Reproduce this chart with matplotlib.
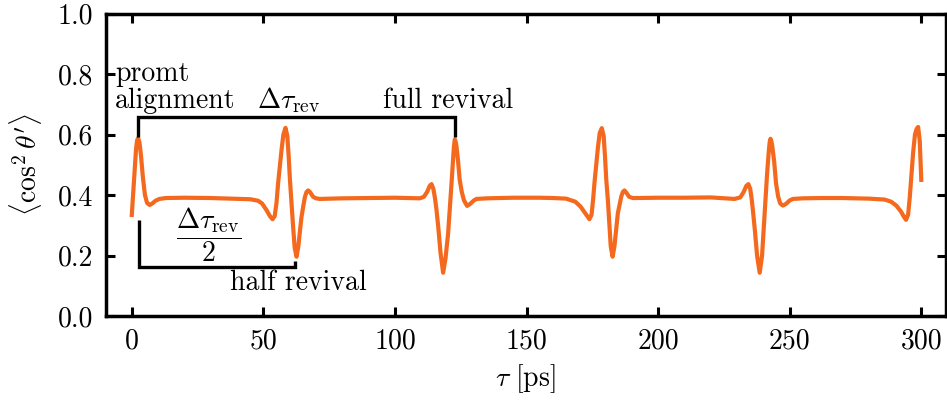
import matplotlib
matplotlib.use("Agg")
import matplotlib.pyplot as plt

plt.rcParams['font.family'] = 'serif'
plt.rcParams['font.serif'] = ['cmr10', 'DejaVu Serif']
plt.rcParams['mathtext.fontset'] = 'cm'
plt.rcParams['axes.formatter.use_mathtext'] = True
plt.rcParams['font.size'] = 20

# ---- data: delay tau [ps] and <cos^2 theta'> ----
tau = [
    0, 0.8, 1.6, 2.0, 2.4, 2.9, 3.5, 4.2, 5.0, 5.8, 6.8, 7.8, 9.0, 10.5, 13,
    20, 30, 38, 45,
    48, 49.5, 51.2, 52.5, 53.5, 54.3, 55.0, 55.6, 56.3, 56.9, 57.6, 58.4, 59.1, 59.6,
    60.1, 60.7, 61.3, 61.9, 62.6, 63.3, 64.0, 64.5, 65.2, 65.8, 66.4, 67.0, 67.7,
    68.9, 70.0, 71.5,
    80, 90, 100, 105,
    109.4, 111.0, 112.2, 113.2, 113.9, 114.6, 115.2, 115.8, 116.5, 117.3, 118.3,
    119.2, 120.2, 120.9, 121.5, 122.1, 122.4, 122.75, 123.1, 123.4, 124.0, 124.6,
    125.4, 126.2, 127.4, 128.5, 130, 131, 135,
    145, 155, 160, 165,
    168.5, 170.5, 172.3, 173.9, 174.7, 175.3, 175.8, 176.5, 177.1, 177.8, 178.6,
    179.3, 179.8, 180.3, 180.9, 181.5, 182.0, 182.7, 183.4, 184.1, 184.7, 185.4,
    186.0, 186.6, 187.2, 187.9, 189.0, 190.4, 192,
    200, 210, 220,
    229.0, 231.2, 232.5, 233.5, 234.3, 235.0, 235.5, 236.0, 236.8, 237.6, 238.6,
    239.5, 240.2, 240.8, 241.4, 242.1, 242.4, 242.7, 243.1, 243.4, 244.1, 244.8,
    245.6, 246.4, 247.4, 248.5, 250, 251.2, 255,
    262, 270, 280, 286,
    288.5, 290.5, 292.3, 293.4, 294.2, 295.0, 295.6, 296.2, 296.9, 297.6, 298.2,
    298.8, 299.4, 300.0,
]
cos2 = [
    0.334, 0.44, 0.55, 0.58, 0.588, 0.575, 0.53, 0.46, 0.40, 0.374, 0.367, 0.372, 0.381, 0.387, 0.390,
    0.391, 0.390, 0.388, 0.386,
    0.381, 0.372, 0.350, 0.330, 0.320, 0.330, 0.375, 0.439, 0.50, 0.549, 0.60, 0.622, 0.595, 0.53,
    0.45, 0.37, 0.295, 0.225, 0.196, 0.23, 0.29, 0.328, 0.365, 0.394, 0.410, 0.415, 0.410,
    0.394, 0.389, 0.387,
    0.389, 0.390, 0.391, 0.390,
    0.389, 0.394, 0.41, 0.43, 0.436, 0.42, 0.39, 0.350, 0.29, 0.21, 0.143,
    0.19, 0.273, 0.36, 0.439, 0.52, 0.56, 0.584, 0.575, 0.56, 0.51, 0.450,
    0.41, 0.383, 0.364, 0.370, 0.382, 0.387, 0.389,
    0.391, 0.391, 0.390, 0.388,
    0.378, 0.362, 0.340, 0.320, 0.335, 0.385, 0.439, 0.50, 0.555, 0.605, 0.621,
    0.595, 0.53, 0.45, 0.384, 0.30, 0.23, 0.196, 0.23, 0.29, 0.340, 0.37,
    0.395, 0.41, 0.415, 0.408, 0.394, 0.390, 0.390,
    0.391, 0.391, 0.392,
    0.387, 0.392, 0.41, 0.43, 0.436, 0.42, 0.39, 0.351, 0.28, 0.20, 0.143,
    0.20, 0.30, 0.384, 0.47, 0.55, 0.575, 0.586, 0.575, 0.56, 0.51, 0.439,
    0.395, 0.372, 0.365, 0.370, 0.382, 0.387, 0.389,
    0.390, 0.390, 0.388, 0.385,
    0.378, 0.365, 0.345, 0.328, 0.318, 0.335, 0.39, 0.46, 0.54, 0.60, 0.618,
    0.625, 0.58, 0.45,
]

x_ticks = [0, 50, 100, 150, 200, 250, 300]
y_ticks = [0.0, 0.2, 0.4, 0.6, 0.8, 1.0]

# revival times (ps) used for the annotation brackets
t_prompt = 2.5
t_half = 62.0
t_full = 122.9

fig = plt.figure(figsize=(9.47, 4.01), dpi=100)
ax = fig.add_axes([106 / 947, 1 - 316 / 401, (945.5 - 106) / 947, (316 - 13.5) / 401])

ax.plot(tau, cos2, color='#F4691D', lw=3.0, zorder=3)

ax.set_xlim(-9.8, 309.2)
ax.set_ylim(0, 1)
ax.set_xticks(x_ticks)
ax.set_yticks(y_ticks)
ax.set_xticklabels([str(v) for v in x_ticks])
ax.set_yticklabels([f"{v:.1f}" for v in y_ticks])
ax.tick_params(direction='in', length=6.5, width=2.2, top=True, right=True, pad=9)
for s in ax.spines.values():
    s.set_linewidth(2.5)

ax.set_xlabel(r'$\tau\ [\mathrm{ps}]$', labelpad=5)
ax.set_ylabel(r'$\langle\cos^2\theta^\prime\rangle$', labelpad=10)

# full-revival bracket
bk = dict(color='black', lw=2.4, solid_capstyle='butt', solid_joinstyle='miter', zorder=4)
ax.plot([t_prompt, t_prompt, t_full, t_full], [0.591, 0.659, 0.659, 0.591], **bk)
# half-revival bracket
ax.plot([2.85, 2.85, t_half, t_half], [0.317, 0.161, 0.161, 0.183], **bk)

ax.text(-6.4, 0.7777, 'promt', ha='left', va='baseline')
ax.text(-6.4, 0.687, 'alignment', ha='left', va='baseline')
ax.text(47.4, 0.687, r'$\Delta\tau_{\mathrm{rev}}$', ha='left', va='baseline')
ax.text(95.5, 0.687, 'full revival', ha='left', va='baseline')
ax.text(29.3, 0.269, r'$\dfrac{\Delta\tau_{\mathrm{rev}}}{2}$', ha='center', va='center')
ax.text(37.3, 0.086, 'half revival', ha='left', va='baseline')

fig.savefig('out.png', dpi=100)
